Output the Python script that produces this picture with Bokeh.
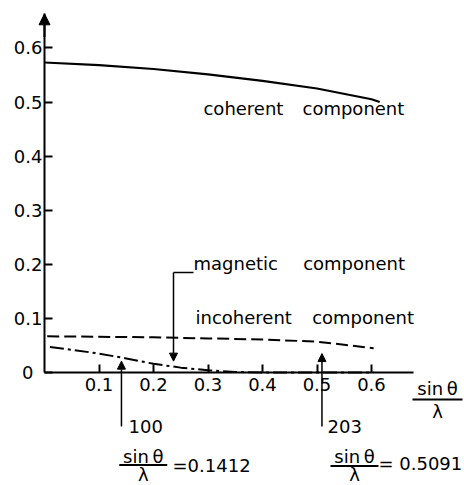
from bokeh.plotting import figure
from bokeh.models import Range1d, LinearAxis, FixedTicker, Arrow, NormalHead
from bokeh.core.properties import value
from bokeh.embed import file_html
from bokeh.resources import INLINE

# ---- data ----
x_ticks = [0.1, 0.2, 0.3, 0.4, 0.5, 0.6]
y_ticks = [0.0, 0.1, 0.2, 0.3, 0.4, 0.5, 0.6]

coh_x = [0.0, 0.1, 0.2, 0.3, 0.4, 0.5, 0.6, 0.615]
coh_y = [0.573, 0.568, 0.561, 0.551, 0.539, 0.525, 0.505, 0.500]

inc_x = [0.005, 0.1, 0.2, 0.3, 0.4, 0.5, 0.604]
inc_y = [0.067, 0.066, 0.065, 0.063, 0.061, 0.057, 0.045]

mag_x = [0.01, 0.05, 0.1, 0.15, 0.2, 0.25, 0.3, 0.35, 0.4, 0.5, 0.604]
mag_y = [0.047, 0.042, 0.035, 0.026, 0.016, 0.009, 0.004, 0.001, 0.0, 0.0, 0.0]

refl_pos = [0.1412, 0.5091]
refl_names = ["100", "203"]
refl_vals = ["=0.1412", "= 0.5091"]

FONT = value("DejaVu Sans")
FS = value("18px")
PX = 1 / 541  # one vertical pixel in data units

p = figure(width=464, height=485, output_backend="svg", toolbar_location=None,
           x_range=Range1d(-44 / 545, 420 / 545), y_range=Range1d(-113 / 541, 372 / 541),
           x_axis_location=None, y_axis_location=None, min_border=0)
p.outline_line_color = None
p.xgrid.visible = False
p.ygrid.visible = False
p.background_fill_color = "white"

common = dict(major_tick_in=8, major_tick_out=0, minor_tick_in=0, minor_tick_out=0,
              axis_line_width=2, major_tick_line_width=2,
              major_label_text_font="DejaVu Sans", major_label_text_font_size="18px",
              major_label_text_color="black", axis_line_color="black",
              major_tick_line_color="black")
xaxis = LinearAxis(fixed_location=0, bounds=(0, 0.677), ticker=FixedTicker(ticks=x_ticks),
                   major_label_standoff=5, **common)
yaxis = LinearAxis(fixed_location=0, bounds=(0, 0.663), ticker=FixedTicker(ticks=y_ticks),
                   major_label_standoff=2, major_label_overrides={0: "0\u2002"}, **common)
p.add_layout(xaxis, "below")
p.add_layout(yaxis, "left")

# y-axis arrow head
p.add_layout(Arrow(x_start=0, y_start=0.62, x_end=0, y_end=0.663, line_width=2,
                   end=NormalHead(size=11, fill_color="black", line_color="black")))

# curves
p.line(coh_x, coh_y, line_color="black", line_width=2.2)
p.line(inc_x, inc_y, line_color="black", line_width=2, line_dash="12 5")
p.line(mag_x, mag_y, line_color="black", line_width=2, line_dash="14 4 3 4")

# reflection arrows
for xp, tip in zip(refl_pos, [0.021, 0.035]):
    p.add_layout(Arrow(x_start=xp, y_start=-0.1, x_end=xp, y_end=tip, line_width=1.5,
                       end=NormalHead(size=8, fill_color="black", line_color="black")))

# magnetic leader
p.line([0.2734, 0.2367], [0.1848, 0.1848], line_color="black", line_width=1.5)
p.add_layout(Arrow(x_start=0.2367, y_start=0.1848, x_end=0.2367, y_end=0.021, line_width=1.5,
                   end=NormalHead(size=8, fill_color="black", line_color="black")))

# labels
p.text(x=[0.2917, 0.4734, 0.2734, 0.4746, 0.2771, 0.4911],
       y=[0.4818 + 3 * PX, 0.4818 + 3 * PX, 0.1898 + 6 * PX, 0.1898 + 6 * PX,
          0.090 + 6 * PX, 0.090 + 6 * PX],
       text=["coherent", "component", "magnetic", "component", "incoherent", "component"],
       text_font=FONT, text_font_size=FS, text_baseline="alphabetic", text_align="left",
       text_color="black")
p.text(x=[0.1541, 0.5193], y=[-0.1134 + 7 * PX, -0.1121 + 7 * PX], text=refl_names,
       text_font=FONT, text_font_size=FS, text_baseline="alphabetic", text_align="left",
       text_color="black")

# fractions sin(theta)/lambda
frac_cx = [0.1812, 0.5688, 0.7211]
frac_num_y = [-0.1676 + 7 * PX, -0.170 + 8 * PX, -0.0407 + 6 * PX]
frac_bar_y = [-0.171, -0.173, -0.0499]
frac_den_y = [-0.2052 + 9 * PX, -0.205 + 9 * PX, -0.0826 + 6 * PX]
frac_half = [0.0440, 0.0440, 0.0459]
p.text(x=frac_cx, y=frac_num_y, text=["sin\u2009\u03b8"] * 3,
       text_font=FONT, text_font_size=FS, text_baseline="alphabetic", text_align="center",
       text_color="black")
p.text(x=frac_cx, y=frac_den_y, text=["\u03bb"] * 3,
       text_font=FONT, text_font_size=FS, text_baseline="alphabetic", text_align="center",
       text_color="black")
p.segment(x0=[c - h for c, h in zip(frac_cx, frac_half)], y0=frac_bar_y,
          x1=[c + h for c, h in zip(frac_cx, frac_half)], y1=frac_bar_y,
          line_color="black", line_width=2)
p.text(x=[0.2349, 0.6128], y=[-0.1824 + 6 * PX, -0.180 + 6 * PX], text=refl_vals,
       text_font=FONT, text_font_size=FS, text_baseline="alphabetic", text_align="left",
       text_color="black")

open("out.html", "w").write(file_html(p, INLINE))
